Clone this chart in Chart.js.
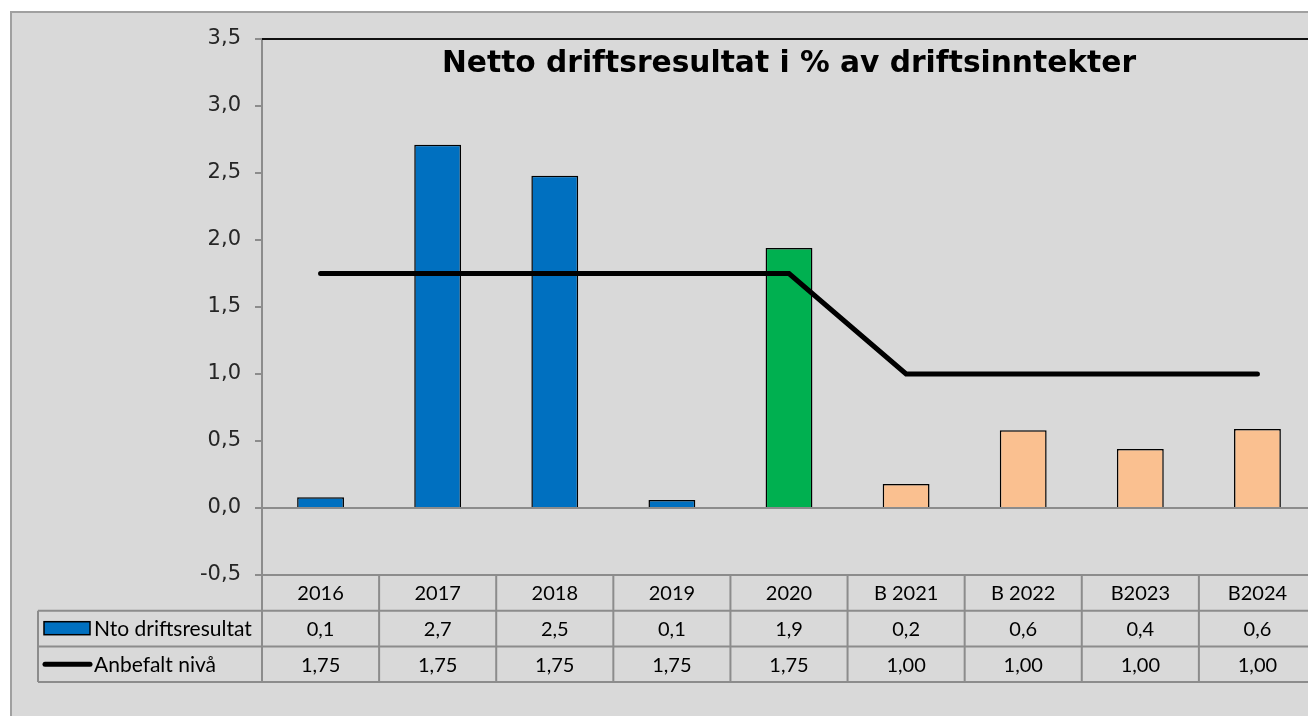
<!DOCTYPE html>
<html>
<head>
<meta charset="utf-8">
<script src="https://cdn.jsdelivr.net/npm/chart.js@4/dist/chart.umd.min.js"></script>
<style>
  html, body { margin: 0; padding: 0; background: #fff; overflow: hidden; }
  #wrap { width: 1330px; height: 716px; }
</style>
</head>
<body>
<div id="wrap"><canvas id="chart" width="1330" height="716"></canvas></div>
<script>
// Data
const categories = ['2016', '2017', '2018', '2019', '2020', 'B 2021', 'B 2022', 'B2023', 'B2024'];
const driftsresultat = [0.08, 2.71, 2.48, 0.06, 1.94, 0.18, 0.58, 0.44, 0.59];
const anbefaltNiva = [1.75, 1.75, 1.75, 1.75, 1.75, 1.00, 1.00, 1.00, 1.00];
const yTicks = [-0.5, 0, 0.5, 1, 1.5, 2, 2.5, 3, 3.5];

const BLUE = '#0070C0';
const GREEN = '#00B050';
const PEACH = '#FAC090';
const barColors = ['blue', 'blue', 'blue', 'blue', 'green', 'peach', 'peach', 'peach', 'peach']
  .map(c => c === 'blue' ? BLUE : c === 'green' ? GREEN : PEACH);

const GRID = '#8c8c8c';
const TABLE_FONT = '20px Lato';
const LEGEND_FONT = '21px Lato';

function comma(v, d) {
  return v.toFixed(d).replace('.', ',');
}

// Background, frame and title
const framePlugin = {
  id: 'frame',
  beforeDraw(chart) {
    const ctx = chart.ctx;
    ctx.save();
    ctx.fillStyle = '#fff';
    ctx.fillRect(0, 0, chart.width, chart.height);
    ctx.fillStyle = '#d9d9d9';
    ctx.fillRect(10, 11, chart.width, chart.height);
    ctx.strokeStyle = '#a0a0a0';
    ctx.lineWidth = 2;
    ctx.strokeRect(11, 12, chart.width + 10, chart.height + 10);
    ctx.restore();
  },
  afterDraw(chart) {
    const ctx = chart.ctx;
    const area = chart.chartArea;
    ctx.save();
    // top border of the plot area
    ctx.strokeStyle = '#111';
    ctx.lineWidth = 2;
    ctx.beginPath();
    ctx.moveTo(area.left, area.top);
    ctx.lineTo(chart.width, area.top);
    ctx.stroke();
    // title
    ctx.fillStyle = '#000';
    ctx.font = 'bold 29.7px "DejaVu Sans"';
    ctx.textAlign = 'center';
    ctx.textBaseline = 'alphabetic';
    ctx.fillText('Netto driftsresultat i % av driftsinntekter', (area.left + area.right) / 2, 72);
    ctx.restore();
  }
};

// Excel style data table under the plot
const tablePlugin = {
  id: 'dataTable',
  afterDatasetsDraw(chart) {
    const ctx = chart.ctx;
    const x = chart.scales.x;
    const area = chart.chartArea;
    const rowH = 35.7;
    const top = area.bottom;
    const r1 = top + rowH, r2 = r1 + rowH, r3 = r2 + rowH;
    const legendLeft = 38;
    const step = x.getPixelForValue(1) - x.getPixelForValue(0);

    ctx.save();
    ctx.strokeStyle = GRID;
    ctx.lineWidth = 2;
    ctx.beginPath();
    // horizontal lines
    ctx.moveTo(area.left, top); ctx.lineTo(chart.width, top);
    ctx.moveTo(legendLeft, r1); ctx.lineTo(chart.width, r1);
    ctx.moveTo(legendLeft, r2); ctx.lineTo(chart.width, r2);
    ctx.moveTo(legendLeft, r3); ctx.lineTo(chart.width, r3);
    // vertical lines
    ctx.moveTo(legendLeft, r1); ctx.lineTo(legendLeft, r3);
    ctx.moveTo(area.left, top); ctx.lineTo(area.left, r3);
    categories.forEach((c, i) => {
      const xr = x.getPixelForValue(i) + step / 2;
      ctx.moveTo(xr, top); ctx.lineTo(xr, r3);
    });
    ctx.stroke();

    // texts
    ctx.fillStyle = '#000';
    ctx.font = TABLE_FONT;
    ctx.textAlign = 'center';
    ctx.textBaseline = 'middle';
    categories.forEach((c, i) => {
      const cx = x.getPixelForValue(i);
      ctx.fillText(c, cx, (top + r1) / 2 + 1);
      ctx.fillText(comma(driftsresultat[i], 1), cx, (r1 + r2) / 2 + 1);
      ctx.fillText(comma(anbefaltNiva[i], 2), cx, (r2 + r3) / 2 + 1);
    });

    // legend keys
    ctx.fillStyle = BLUE;
    ctx.fillRect(44, r1 + 11, 46, 13);
    ctx.strokeStyle = '#000';
    ctx.lineWidth = 1.5;
    ctx.strokeRect(44, r1 + 11, 46, 13);
    ctx.lineWidth = 5;
    ctx.lineCap = 'round';
    ctx.beginPath();
    ctx.moveTo(45, (r2 + r3) / 2);
    ctx.lineTo(90, (r2 + r3) / 2);
    ctx.stroke();

    ctx.fillStyle = '#000';
    ctx.font = LEGEND_FONT;
    ctx.textAlign = 'left';
    ctx.fillText('Nto driftsresultat', 94, (r1 + r2) / 2 + 1);
    ctx.fillText('Anbefalt nivå', 94, (r2 + r3) / 2 + 1);
    ctx.restore();
  }
};

new Chart(document.getElementById('chart'), {
  type: 'bar',
  data: {
    labels: categories,
    datasets: [
      {
        type: 'line',
        label: 'Anbefalt nivå',
        data: anbefaltNiva,
        borderColor: '#000',
        borderWidth: 5,
        borderCapStyle: 'round',
        borderJoinStyle: 'miter',
        pointRadius: 0,
        tension: 0,
        fill: false
      },
      {
        label: 'Nto driftsresultat',
        data: driftsresultat,
        backgroundColor: barColors,
        borderColor: '#000',
        borderWidth: 1.5,
        categoryPercentage: 1,
        barPercentage: 0.4
      }
    ]
  },
  options: {
    responsive: false,
    animation: false,
    devicePixelRatio: 1,
    layout: { padding: { left: 10, top: 39, right: 14, bottom: 141 } },
    plugins: {
      legend: { display: false },
      title: { display: false },
      tooltip: { enabled: false }
    },
    scales: {
      x: {
        display: false
      },
      y: {
        min: -0.5,
        max: 3.5,
        afterBuildTicks: scale => { scale.ticks = yTicks.map(v => ({ value: v })); },
        afterFit: scale => { scale.width = 252; },
        border: { display: true, color: GRID, width: 2 },
        grid: {
          color: c => c.tick && c.tick.value === 0 ? GRID : 'transparent',
          tickColor: GRID,
          lineWidth: 2,
          tickLength: 7
        },
        ticks: {
          color: '#262626',
          font: { family: 'DejaVu Sans', size: 21 },
          padding: 14,
          callback: v => comma(v, 1)
        }
      }
    }
  },
  plugins: [framePlugin, tablePlugin]
});
</script>
</body>
</html>
